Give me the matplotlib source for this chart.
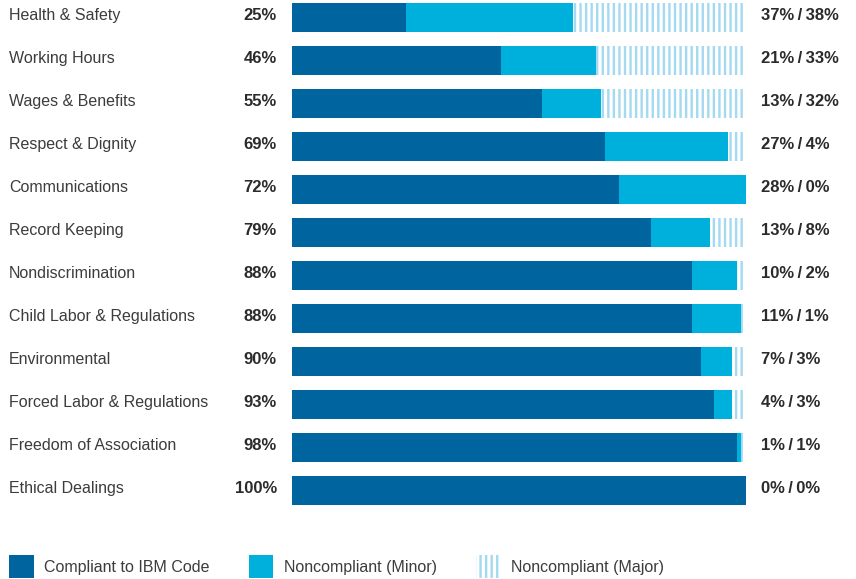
import matplotlib
matplotlib.use("Agg")
import matplotlib.pyplot as plt
from matplotlib.patches import Patch
from matplotlib.transforms import blended_transform_factory

plt.rcParams['font.family'] = ['Liberation Sans', 'DejaVu Sans']
plt.rcParams['hatch.linewidth'] = 1.7

categories = ["Health & Safety", "Working Hours", "Wages & Benefits", "Respect & Dignity",
              "Communications", "Record Keeping", "Nondiscrimination",
              "Child Labor & Regulations", "Environmental", "Forced Labor & Regulations",
              "Freedom of Association", "Ethical Dealings"]
compliant = [25, 46, 55, 69, 72, 79, 88, 88, 90, 93, 98, 100]
minor = [37, 21, 13, 27, 28, 13, 10, 11, 7, 4, 1, 0]
major = [38, 33, 32, 4, 0, 8, 2, 1, 3, 3, 1, 0]

c_comp = "#00649f"
c_minor = "#00b0dc"
c_major = "#a3d9f1"
txt = "#2b2b2b"
txt2 = "#3c3c3c"

W, H = 856, 579
fig = plt.figure(figsize=(W/100, H/100), dpi=100)
top_px = 17.5 - 0.5*43
bot_px = 17.5 + 43*11.5
ax = fig.add_axes([292/W, 1 - bot_px/H, (746-292)/W, (bot_px - top_px)/H])
ax.set_xlim(0, 100)
ax.set_ylim(11.5, -0.5)
ax.axis('off')

y = list(range(len(categories)))
bh = 29/43
ax.barh(y, compliant, height=bh, color=c_comp, lw=0)
left2 = [a for a in compliant]
ax.barh(y, minor, left=left2, height=bh, color=c_minor, lw=0)
left3 = [a + b for a, b in zip(compliant, minor)]
ax.barh(y, major, left=left3, height=bh, facecolor='white', edgecolor=c_major, hatch='|||', lw=0)

tr = blended_transform_factory(fig.transFigure, ax.transData)
for i, cat in enumerate(categories):
    ax.text(9/W, i - 0.05, cat, transform=tr, ha='left', va='center', fontsize=11.5, color=txt2)
    ax.text(277/W, i - 0.05, f"{compliant[i]}%", transform=tr, ha='right', va='center',
            fontsize=12, fontweight='bold', color=txt)
    ax.text(761/W, i - 0.05, f"{minor[i]}%\u2009/\u2009{major[i]}%", transform=tr, ha='left', va='center',
            fontsize=12, fontweight='bold', color=txt)

handles = [Patch(facecolor=c_comp, lw=0, label="Compliant to IBM Code"),
           Patch(facecolor=c_minor, lw=0, label="Noncompliant (Minor)"),
           Patch(facecolor='white', edgecolor=c_major, hatch='|||', lw=0, label="Noncompliant (Major)")]
leg = fig.legend(handles=handles, loc='lower left', bbox_to_anchor=(8/W, 0), ncol=3,
                 frameon=False, fontsize=11.5, handlelength=1.55, handleheight=1.85,
                 handletextpad=0.65, columnspacing=2.45, borderaxespad=0.0, borderpad=0.05)
for t in leg.get_texts():
    t.set_color(txt2)

fig.savefig("out.png", dpi=100)
